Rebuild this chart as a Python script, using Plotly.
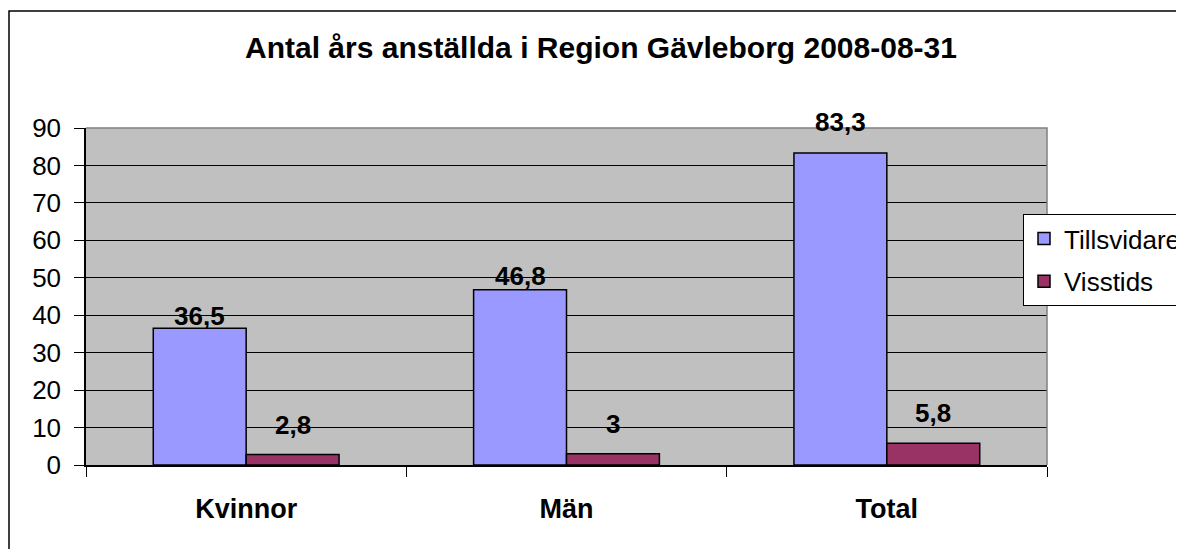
import plotly.graph_objects as go

categories = ["Kvinnor", "Män", "Total"]
tillsvidare = [36.5, 46.8, 83.3]
visstids = [2.8, 3.0, 5.8]
series_names = ["Tillsvidare", "Visstids"]
y_ticks = [0, 10, 20, 30, 40, 50, 60, 70, 80, 90]
title_text = "Antal års anställda i Region Gävleborg 2008-08-31"

# styling (page body has an 8px margin)
OFF = 8
W, H = 1184, 549
L, R, T, B = 86 - OFF, 137 + OFF, 128 - OFF, 84 + OFF
pw, ph = W - L - R, H - T - B
colors = ["#9999FF", "#993366"]
FONT = "Liberation Sans, Arial, sans-serif"

def fmt(v):
    return f"{v:g}".replace(".", ",")

def px_x(x):  # target-image pixel -> paper x
    return (x - OFF - L) / pw

def px_y(y):  # target-image pixel -> paper y
    return (H - B - (y - OFF)) / ph

fig = go.Figure()
for name, vals, col in zip(series_names, [tillsvidare, visstids], colors):
    fig.add_trace(go.Bar(
        x=categories, y=vals, name=name, legendgroup=name,
        marker=dict(color=col, line=dict(color="black", width=1.5)),
    ))

# data labels
label_shift = {"Tillsvidare": [12, 14, 31], "Visstids": [30, 30, 30]}
bar_px = pw / 3 * (1 - 0.42) / 2
for si, (name, vals) in enumerate(zip(series_names, [tillsvidare, visstids])):
    for ci, (c, v) in enumerate(zip(categories, vals)):
        fig.add_annotation(
            x=c, y=v, xref="x", yref="y", text=fmt(v), showarrow=False,
            xshift=(-0.5 if si == 0 else 0.5) * bar_px,
            yshift=label_shift[name][ci], yanchor="middle",
            font=dict(family=FONT, size=26, color="black", weight="bold"),
        )

# outer chart border (extends beyond visible area)
fig.add_shape(type="rect", xref="paper", yref="paper",
              x0=px_x(9), x1=2, y0=-2, y1=px_y(11),
              line=dict(color="black", width=1.5), layer="below")
# plot-area border top/right in gray
fig.add_shape(type="path", xref="paper", yref="paper",
              path="M 0 1 L 1 1 L 1 0", line=dict(color="#808080", width=1.5))

fig.update_layout(
    width=W, height=H,
    margin=dict(l=L, r=R, t=T, b=B, autoexpand=False),
    paper_bgcolor="white", plot_bgcolor="#C0C0C0",
    barmode="group", bargap=0.42, bargroupgap=0,
    title=dict(text=title_text, x=(601 - OFF) / W, xanchor="center",
               y=1 - (47 - OFF) / H, yanchor="middle", xref="container", yref="container",
               font=dict(family=FONT, size=30, color="black", weight="bold")),
    font=dict(family=FONT, color="black"),
    showlegend=True,
    legend=dict(x=px_x(1023), xanchor="left", y=px_y(214), yanchor="top",
                bgcolor="white", bordercolor="black", borderwidth=1,
                font=dict(family=FONT, size=26, color="black"),
                traceorder="grouped", tracegroupgap=6),
    xaxis=dict(type="category", tickson="boundaries", ticks="outside", ticklen=10,
               tickcolor="black", showline=True, linecolor="black", linewidth=1.5,
               showgrid=False, ticklabelstandoff=19,
               tickfont=dict(family=FONT, size=27, color="black", weight="bold")),
    yaxis=dict(range=[0, 90], tickvals=y_ticks, ticks="outside", ticklen=10,
               tickcolor="black", showline=True, linecolor="black", linewidth=1.5,
               showgrid=True, gridcolor="black", gridwidth=1, zeroline=False,
               ticklabelstandoff=8,
               tickfont=dict(family=FONT, size=26, color="black")),
)

fig.write_html("out.html")
